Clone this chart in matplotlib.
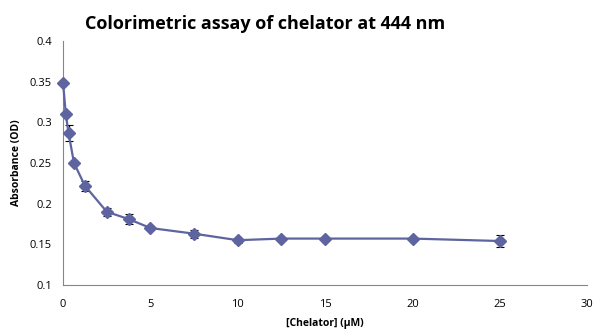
import matplotlib
matplotlib.use("Agg")
import matplotlib.pyplot as plt

# concentrations (uM) and absorbance readings
chelator = [0, 0.156, 0.3125, 0.625, 1.25, 2.5, 3.75, 5, 7.5, 10, 12.5, 15, 20, 25]
absorbance = [0.349, 0.310, 0.287, 0.250, 0.222, 0.190, 0.181, 0.170, 0.163, 0.155, 0.157, 0.157, 0.157, 0.154]
erreur = [0.002, 0.002, 0.010, 0.002, 0.006, 0.005, 0.006, 0.002, 0.005, 0.003, 0.002, 0.002, 0.002, 0.007]

couleur = "#5E64A0"

fig = plt.figure(figsize=(5.95, 3.34), dpi=100)
ax = fig.add_axes([0.106, 0.147, 0.881, 0.730])

lignes = ax.errorbar(chelator, absorbance, yerr=erreur, color=couleur, linewidth=1.6,
                     marker="D", markersize=6.5, markerfacecolor=couleur, markeredgecolor=couleur,
                     ecolor="black", elinewidth=0.8, capsize=3, capthick=0.8, zorder=3)
for art in lignes.get_children():
    art.set_clip_on(False)

ax.set_xlim(0, 30)
ax.set_ylim(0.1, 0.4)
ax.set_xticks([0, 5, 10, 15, 20, 25, 30])
ax.set_yticks([0.1, 0.15, 0.2, 0.25, 0.3, 0.35, 0.4])
ax.set_yticklabels(["0.1", "0.15", "0.2", "0.25", "0.3", "0.35", "0.4"])

for s in ["top", "right"]:
    ax.spines[s].set_visible(False)
for s in ["left", "bottom"]:
    ax.spines[s].set_color("#868686")
    ax.spines[s].set_linewidth(0.8)

# pas de graduations visibles, juste les etiquettes
ax.tick_params(axis="x", labelsize=8, length=0, pad=10)
ax.tick_params(axis="y", labelsize=8, length=0, pad=8)
for lab in ax.get_xticklabels() + ax.get_yticklabels():
    lab.set_family("Open Sans")

ax.set_xlabel("[Chelator] (\u00b5M)", fontsize=7.5, fontweight="bold", family="Open Sans", labelpad=6)
ax.set_ylabel("Absorbance (OD)", fontsize=7.5, fontweight="bold", family="Open Sans", labelpad=6)
fig.suptitle("Colorimetric assay of chelator at 444 nm", x=0.445, y=0.955,
             fontsize=13, fontweight="bold", family="Open Sans")

fig.savefig("out.png", dpi=100)
